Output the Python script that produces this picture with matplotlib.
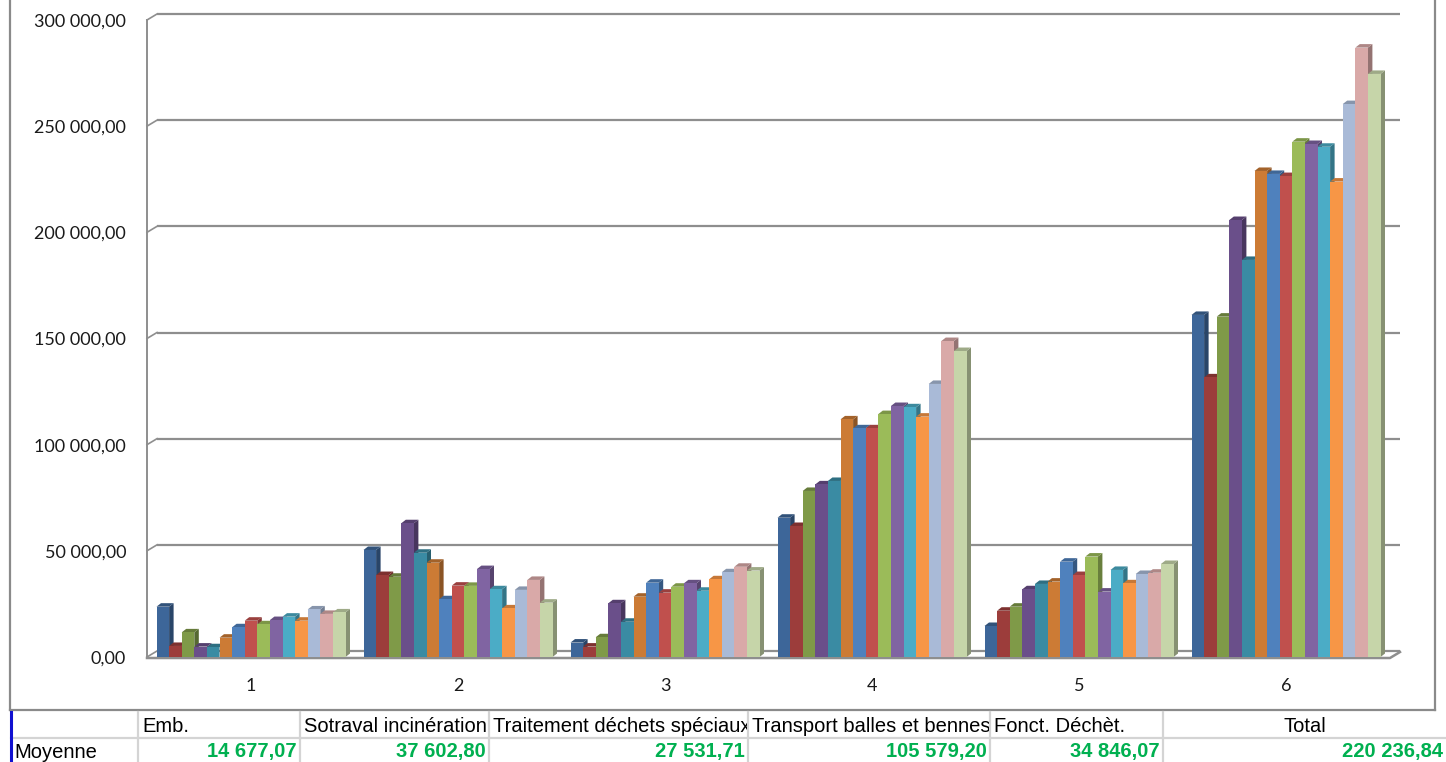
import matplotlib
matplotlib.use("Agg")
import matplotlib.pyplot as plt
from matplotlib.patches import Polygon
from matplotlib.lines import Line2D
from matplotlib.colors import to_rgb
from matplotlib.transforms import Bbox
import numpy as np

# ---------------- data ----------------
groups = ["1", "2", "3", "4", "5", "6"]

series_colors = ["#3D6699", "#9C3D3B", "#7F9A48", "#6A4F8A", "#3A8BA3",
                 "#CC7B35", "#4F81BD", "#C0504D", "#9BBB59", "#8064A2",
                 "#4BACC6", "#F79646", "#A9BAD7", "#D9A9A8", "#C6D5A9"]

group1 = [23700, 5200, 11600, 4900, 4600, 9100, 14000, 17100, 15400, 17400,
          19000, 17100, 22400, 20300, 21000]
group2 = [50400, 38600, 37800, 63000, 49100, 44400, 27200, 33600, 33500, 41400,
          31900, 22900, 31600, 36300, 25600]
group3 = [6800, 4900, 9300, 25300, 16600, 28400, 35000, 30300, 33100, 34700,
          31200, 36600, 39900, 42500, 40700]
group4 = [65600, 61700, 78200, 81300, 82900, 111900, 107700, 107700, 114400, 118200,
          117600, 113200, 128600, 148800, 144100]
group5 = [14600, 21800, 23700, 31900, 34400, 35500, 44900, 38600, 47300, 30800,
          41000, 34700, 39100, 39700, 43800]
group6 = [161100, 131700, 160300, 205800, 187000, 228900, 227500, 226500, 242700, 241600,
          240300, 223900, 260400, 287000, 274600]

yticks = [0, 50000, 100000, 150000, 200000, 250000, 300000]
ytick_labels = ["0,00", "50 000,00", "100 000,00", "150 000,00",
                "200 000,00", "250 000,00", "300 000,00"]

table_row_label = "Moyenne"
table_headers = ["Emb.", "Sotraval incinération", "Traitement déchets spéciaux",
                 "Transport balles et bennes", "Fonct. Déchèt.", "Total"]
table_means = ["14 677,07", "37 602,80", "27 531,71", "105 579,20",
               "34 846,07", "220 236,84"]

# ---------------- layout (pixels) ----------------
W, H = 1446, 762
AX_L, AX_R, AX_T, AX_B = 147, 1400, 20, 657
GROUP_PX = 207.0
FIRST_CENTER = 251.0
BAR_PX = 12.6
DEPTH_X, DEPTH_Y = 4.5, 3.5
WALL_X, WALL_Y = 10.0, 6.0
YMAX = 300000

fig = plt.figure(figsize=(W / 100, H / 100), dpi=100)
fig.patch.set_facecolor("white")
ax = fig.add_axes([AX_L / W, 1 - AX_B / H, (AX_R - AX_L) / W, (AX_B - AX_T) / H])

x_lo = 1 - (FIRST_CENTER - AX_L) / GROUP_PX
x_hi = 1 + (AX_R - FIRST_CENTER) / GROUP_PX
ax.set_xlim(x_lo, x_hi)
ax.set_ylim(0, YMAX)

px_x = GROUP_PX
px_y = (AX_B - AX_T) / YMAX
w = BAR_PX / px_x
dx, dy = DEPTH_X / px_x, DEPTH_Y / px_y
wdx, wdy = WALL_X / px_x, WALL_Y / px_y

data = np.array([group1, group2, group3, group4, group5, group6])
centers = np.arange(1, len(groups) + 1)
nser = data.shape[1]

grid_c = "#8E8E8E"
for v in yticks:
    ax.plot([x_lo + wdx, x_hi], [v + wdy, v + wdy], color=grid_c, lw=1.6,
            zorder=1, clip_on=False, solid_capstyle="butt")
    ax.plot([x_lo, x_lo + wdx], [v, v + wdy], color=grid_c, lw=1.2,
            zorder=1, clip_on=False)
ax.plot([x_lo, x_lo], [0, YMAX], color=grid_c, lw=1.4, zorder=1, clip_on=False)
floor_end = x_hi - wdx
ax.plot([x_lo, floor_end, x_hi], [-1.0 / px_y, -1.0 / px_y, wdy - 1.0 / px_y],
        color=grid_c, lw=1.8, zorder=1, clip_on=False)


def shade(c, f):
    r, g, b = to_rgb(c)
    return (r * f, g * f, b * f)


for j in range(nser):
    xs = centers + (j - (nser - 1) / 2) * w
    hs = data[:, j]
    zb = 2 + j * 0.01
    bars = ax.bar(xs, hs, width=w, color=series_colors[j], linewidth=0,
                  zorder=zb + 0.005)
    for b in bars:
        x0 = b.get_x()
        x1 = x0 + b.get_width()
        h = b.get_height()
        side = Polygon([(x1, 0), (x1, h), (x1 + dx, h + dy), (x1 + dx, dy)],
                       closed=True, facecolor=shade(series_colors[j], 0.68),
                       edgecolor="none", zorder=zb)
        top = Polygon([(x0, h), (x1, h), (x1 + dx, h + dy), (x0 + dx, h + dy)],
                      closed=True, facecolor=shade(series_colors[j], 0.8),
                      edgecolor="none", zorder=zb)
        ax.add_patch(side)
        ax.add_patch(top)

for s in ax.spines.values():
    s.set_visible(False)
ax.set_yticks(yticks)
ax.set_yticklabels(ytick_labels)
ax.set_xticks(centers)
ax.set_xticklabels(groups)
ax.tick_params(axis="both", length=0, labelsize=13, labelcolor="#1a1a1a")
ax.tick_params(axis="y", pad=15)
ax.tick_params(axis="x", pad=15)
for lab in ax.get_yticklabels() + ax.get_xticklabels():
    lab.set_fontfamily("Lato")


def fx(x):
    return x / W


def fy(y):
    return 1 - y / H


frame_c = "#8A8A8A"
FR_L, FR_R, FR_B = 10, 1435, 710
for xs_, ys_ in [([FR_L, FR_L], [0, FR_B]), ([FR_L, FR_R], [FR_B, FR_B]),
                 ([FR_R, FR_R], [0, FR_B])]:
    fig.add_artist(Line2D([fx(v) for v in xs_], [fy(v) for v in ys_],
                          color=frame_c, lw=1.6))

# ---------------- table ----------------
cell_edges = [11, 138, 300, 489, 748, 990, 1163, 1446]
row_top, row_mid, row_bot = 712, 738, 762
tc = "#D4D4D4"
fig.add_artist(Line2D([fx(11), fx(W)], [fy(row_mid), fy(row_mid)], color=tc, lw=1.6))
for x in cell_edges[1:-1]:
    fig.add_artist(Line2D([fx(x), fx(x)], [fy(row_top), fy(row_bot)], color=tc, lw=1.6))
fig.add_artist(Line2D([fx(11), fx(11)], [fy(row_top), fy(row_bot)], color="#1010D0", lw=2.2))

hdr_y = fy(727)
val_y = fy(752)
fig.text(fx(14), val_y, table_row_label, fontsize=14.5,
         family="Liberation Sans", ha="left", va="center", color="black")
for i, (hdr, val) in enumerate(zip(table_headers, table_means)):
    left, right = cell_edges[i + 1], cell_edges[i + 2]
    if hdr == "Total":
        t = fig.text(fx((left + right) / 2), hdr_y, hdr, fontsize=14.5,
                     family="Liberation Sans", ha="center", va="center", color="black")
    else:
        t = fig.text(fx(left + 4), hdr_y, hdr, fontsize=14.5,
                     family="Liberation Sans", ha="left", va="center", color="black")
    t.set_clip_box(Bbox.from_extents(left, 0, right - 1, H))
    t.set_clip_on(True)
    fig.text(fx(right - 3), val_y, val, fontsize=14.5, fontweight="bold",
             family="Liberation Sans", ha="right", va="center", color="#00B050")

fig.savefig("out.png", dpi=100, facecolor="white")
